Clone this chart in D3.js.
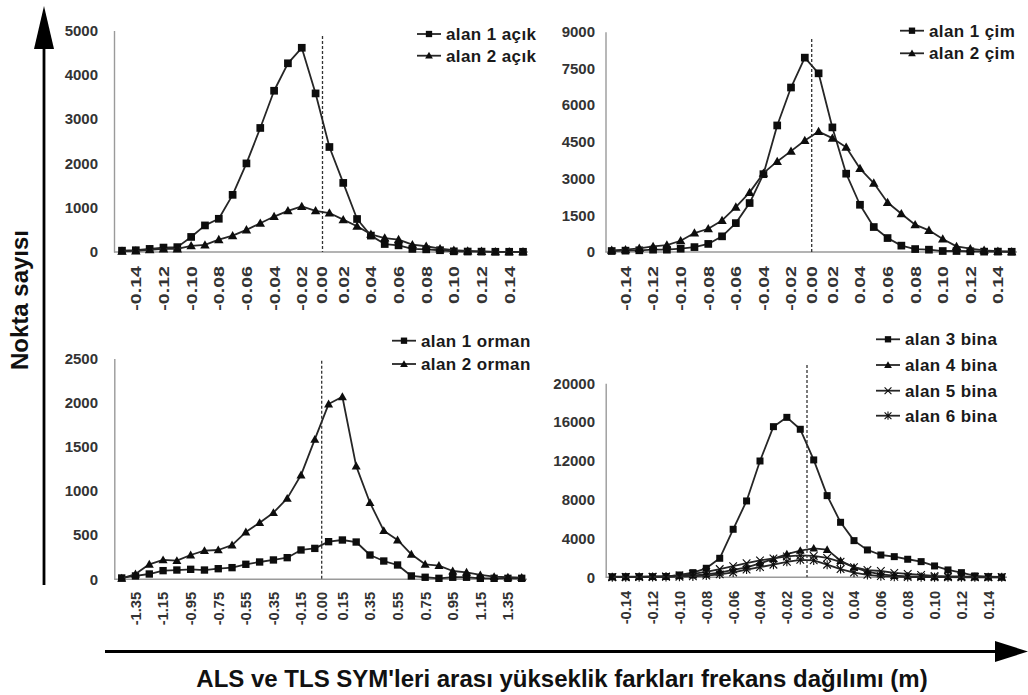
<!DOCTYPE html>
<html><head><meta charset="utf-8">
<script src="https://cdn.jsdelivr.net/npm/d3@7"></script>
<style>
body{margin:0;background:#fff}
svg{display:block}
text{font-family:"Liberation Sans",Arial,sans-serif;font-weight:bold}
</style>
</head><body>
<svg id="chart" width="1028" height="695"></svg>
<script>
// ---------- DATA ----------
const catsFine = ["-0.15","-0.14","-0.13","-0.12","-0.11","-0.10","-0.09","-0.08","-0.07","-0.06","-0.05","-0.04","-0.03","-0.02","-0.01",
                  "0.01","0.02","0.03","0.04","0.05","0.06","0.07","0.08","0.09","0.10","0.11","0.12","0.13","0.14","0.15"];
const catsOrman = ["-1.45","-1.35","-1.25","-1.15","-1.05","-0.95","-0.85","-0.75","-0.65","-0.55","-0.45","-0.35","-0.25","-0.15","-0.05",
                   "0.05","0.15","0.25","0.35","0.45","0.55","0.65","0.75","0.85","0.95","1.05","1.15","1.25","1.35","1.45"];
const ticksFine = ["-0.14","-0.12","-0.10","-0.08","-0.06","-0.04","-0.02","0.02","0.04","0.06","0.08","0.10","0.12","0.14"];
const ticksOrman = ["-1.35","-1.15","-0.95","-0.75","-0.55","-0.35","-0.15","0.15","0.35","0.55","0.75","0.95","1.15","1.35"];
const zeroLabel = "0.00";

const yTicksAcik = [0,1000,2000,3000,4000,5000];
const yTicksCim = [0,1500,3000,4500,6000,7500,9000];
const yTicksOrman = [0,500,1000,1500,2000,2500];
const yTicksBina = [0,4000,8000,12000,16000,20000];

const namesAcik = ["alan 1 açık","alan 2 açık"];
const namesCim = ["alan 1 çim","alan 2 çim"];
const namesOrman = ["alan 1 orman","alan 2 orman"];
const namesBina = ["alan 3 bina","alan 4 bina","alan 5 bina","alan 6 bina"];

const acik1 = [30,40,70,100,110,340,600,750,1290,2000,2800,3640,4260,4610,3580,2370,1560,745,370,180,150,70,60,40,15,10,8,5,5,5];
const acik2 = [20,25,50,70,70,140,160,280,370,500,650,800,930,1030,930,880,730,580,400,315,280,165,130,75,40,25,15,5,5,5];

const cim1 = [40,55,70,95,95,135,200,330,640,1180,2000,3180,5170,6720,7940,7300,5090,3200,1930,1020,570,260,120,95,40,40,30,15,15,10];
const cim2 = [70,95,150,230,285,460,775,950,1290,1835,2435,3220,3700,4120,4555,4920,4650,4280,3410,2815,2025,1565,1115,885,530,230,135,70,30,10];

const orman1 = [15,38,60,98,105,113,105,120,132,170,196,219,245,332,350,426,445,422,275,207,162,38,23,11,23,23,11,11,11,11];
const orman2 = [11,60,170,219,211,275,324,332,388,535,641,754,916,1180,1584,1984,2067,1282,867,550,445,283,170,155,94,79,49,30,23,19];

const bina3 = [60,70,70,70,80,240,480,930,1960,4950,7870,11990,15530,16490,15260,12100,8420,5670,3780,2820,2300,2130,1860,1615,1170,760,480,140,70,30];
const bina4 = [30,40,50,60,80,120,200,300,480,760,1030,1440,1890,2400,2750,2990,2850,1700,1030,580,310,170,100,60,40,30,20,10,10,5];
const bina5 = [20,30,40,60,100,200,350,550,850,1150,1450,1750,1950,2150,2250,2200,2000,1600,1050,750,650,450,350,250,150,100,80,50,30,20];
const bina6 = [10,10,20,30,40,60,100,180,300,500,800,1050,1300,1600,1800,1750,1300,850,480,250,120,60,30,20,10,10,5,5,5,5];

const markersTwo = ["square","triangle"];
const markersFour = ["square","triangle","times","asterisk"];

// ---------- LAYOUT ----------
const panels = [
  {cats:catsFine, ticks:ticksFine, yTicks:yTicksAcik, names:namesAcik, data:[acik1,acik2], markers:markersTwo,
   L:{ax:114, x0:122, x1:523, xEnd:528, yTop:30.5, yZero:252, dashTop:36, labRight:98, tickScale:1.4, labGap:14, legX:417, legY:[34,55.7], ms:1.1}},
  {cats:catsFine, ticks:ticksFine, yTicks:yTicksCim, names:namesCim, data:[cim1,cim2], markers:markersTwo,
   L:{ax:605.5, x0:611.7, x1:1011.7, xEnd:1017, yTop:31.7, yZero:252, dashTop:39, labRight:595, tickScale:1.4, labGap:14, legX:900, legY:[30.7,53.3], ms:1.1}},
  {cats:catsOrman, ticks:ticksOrman, yTicks:yTicksOrman, names:namesOrman, data:[orman1,orman2], markers:markersTwo,
   L:{ax:114.3, x0:121.7, x1:521.7, xEnd:527, yTop:358.5, yZero:579.3, dashTop:360.7, labRight:98, tickScale:1.05, labGap:12.5, legX:392, legY:[340.7,364], ms:1.05}},
  {cats:catsFine, ticks:ticksFine, yTicks:yTicksBina, names:namesBina, data:[bina3,bina4,bina5,bina6], markers:markersFour,
   L:{ax:605.7, x0:612.3, x1:1001.7, xEnd:1007, yTop:383.3, yZero:577.3, dashTop:365, labRight:595, tickScale:1.05, labGap:13.5, legX:876, legY:[339.3,365,390.7,415.7], ms:1.0}}
];

const svg = d3.select("#chart");
const LINE = "#262626", MARK = "#0d0d0d", AXIS = "#9a9a9a", TXT = "#333";

function marker(g, type, cx, cy, s) {
  if (type === "square") {
    const h = 3.5*s;
    g.append("rect").attr("x",cx-h).attr("y",cy-h).attr("width",2*h).attr("height",2*h).attr("fill",MARK);
  } else if (type === "triangle") {
    const a = 4.3*s;
    g.append("path").attr("d",`M${cx},${cy-a}L${cx+a},${cy+a*0.75}L${cx-a},${cy+a*0.75}Z`).attr("fill",MARK);
  } else if (type === "times") {
    const a = 3.8*s;
    g.append("path").attr("d",`M${cx-a},${cy-a}L${cx+a},${cy+a}M${cx-a},${cy+a}L${cx+a},${cy-a}`)
      .attr("stroke",MARK).attr("stroke-width",1.1).attr("fill","none");
  } else if (type === "asterisk") {
    const a = 3.8*s;
    g.append("path").attr("d",`M${cx-a},${cy-a}L${cx+a},${cy+a}M${cx-a},${cy+a}L${cx+a},${cy-a}M${cx},${cy-a*1.2}L${cx},${cy+a*1.2}`)
      .attr("stroke",MARK).attr("stroke-width",1.1).attr("fill","none");
  }
}

panels.forEach(p => {
  const L = p.L;
  const g = svg.append("g");
  const x = d3.scalePoint().domain(p.cats).range([L.x0, L.x1]);
  const yMax = p.yTicks[p.yTicks.length-1];
  const y = d3.scaleLinear().domain([0, yMax]).range([L.yZero, L.yTop]);

  // y axis
  const ya = g.append("g").attr("transform",`translate(${L.ax},0)`)
    .call(d3.axisLeft(y).tickValues(p.yTicks).tickSize(0).tickSizeOuter(0).tickPadding(L.ax - L.labRight).tickFormat(d3.format("d")));
  ya.select(".domain").attr("stroke",AXIS).attr("stroke-width",1.4);
  ya.selectAll("text").attr("fill",TXT).style("font-size","15px").style("font-family","'Liberation Sans',Arial,sans-serif").style("font-weight","bold");

  // x baseline
  g.append("line").attr("x1",L.ax).attr("x2",L.xEnd).attr("y1",L.yZero).attr("y2",L.yZero)
    .attr("stroke",AXIS).attr("stroke-width",1.4);

  // x tick labels via axis
  const xa = g.append("g").attr("transform",`translate(0,${L.yZero})`)
    .call(d3.axisBottom(x).tickValues(p.ticks).tickSize(0).tickSizeOuter(0));
  xa.select(".domain").remove();
  xa.selectAll("text")
    .attr("y",null).attr("dy","0.35em").attr("x",null)
    .attr("text-anchor","end")
    .attr("transform",`translate(0,${L.labGap}) rotate(-90) scale(${L.tickScale},1)`)
    .attr("fill",TXT).style("font-size","14px").style("font-family","'Liberation Sans',Arial,sans-serif").style("font-weight","bold");

  // zero position (between -x and +x bins)
  const zx = (x(p.cats[14]) + x(p.cats[15]))/2;
  g.append("text").attr("text-anchor","end").attr("dy","0.35em")
    .attr("transform",`translate(${zx},${L.yZero + L.labGap}) rotate(-90) scale(${L.tickScale},1)`)
    .attr("fill",TXT).style("font-size","14px").text(zeroLabel);

  // dashed zero line
  g.append("line").attr("x1",zx).attr("x2",zx).attr("y1",L.dashTop).attr("y2",L.yZero)
    .attr("stroke","#333").attr("stroke-width",1.3).attr("stroke-dasharray","3,2");

  // series
  const line = d3.line().x((d,i)=>x(p.cats[i])).y(d=>y(d));
  p.data.forEach((vals, si) => {
    g.append("path").datum(vals).attr("d",line).attr("fill","none")
      .attr("stroke",LINE).attr("stroke-width",1.8).attr("stroke-linejoin","round");
    const mg = g.append("g");
    vals.forEach((v,i)=> marker(mg, p.markers[si], x(p.cats[i]), y(v), L.ms));
  });

  // legend
  p.names.forEach((n, si) => {
    const ly = L.legY[si];
    g.append("line").attr("x1",L.legX).attr("x2",L.legX+24).attr("y1",ly).attr("y2",ly)
      .attr("stroke",LINE).attr("stroke-width",1.8);
    marker(g, p.markers[si], L.legX+12, ly, 0.9);
    g.append("text").attr("x",L.legX+29).attr("y",ly).attr("dy","0.35em")
      .attr("fill","#1a1a1a").style("font-size","17px").style("letter-spacing","0.4px").text(n);
  });
});

// big arrows
svg.append("line").attr("x1",44).attr("x2",44).attr("y1",45).attr("y2",585).attr("stroke","#000").attr("stroke-width",2.8);
svg.append("path").attr("d","M44,6L34,49L54,49Z").attr("fill","#000");
svg.append("line").attr("x1",105).attr("x2",998).attr("y1",651.5).attr("y2",651.5).attr("stroke","#000").attr("stroke-width",2.8);
svg.append("path").attr("d","M1028,651.5L995,641L995,662Z").attr("fill","#000");

svg.append("text").attr("transform","translate(28,300) rotate(-90)").attr("text-anchor","middle")
  .attr("fill","#111").style("font-size","24px").text("Nokta sayısı");
svg.append("text").attr("x",562).attr("y",687).attr("text-anchor","middle")
  .attr("fill","#111").style("font-size","24px").text("ALS ve TLS SYM'leri arası yükseklik farkları frekans dağılımı (m)");
</script>
</body></html>
